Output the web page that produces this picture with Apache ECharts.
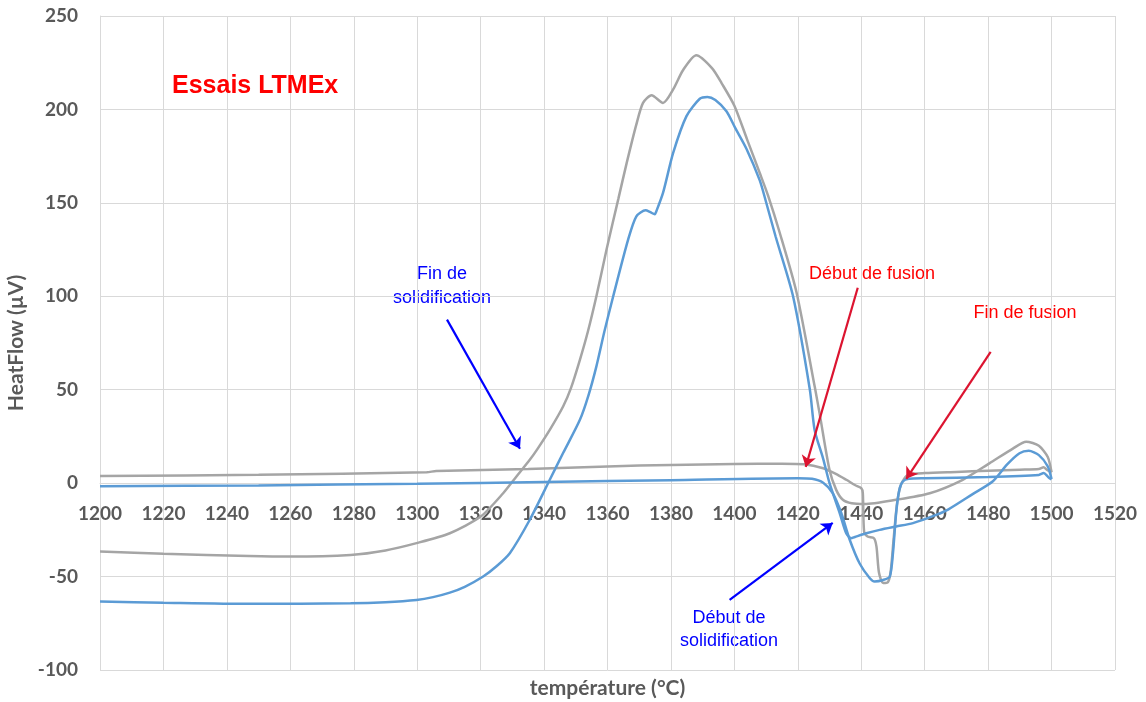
<!DOCTYPE html>
<html>
<head>
<meta charset="utf-8">
<script src="https://cdn.jsdelivr.net/npm/echarts@6/dist/echarts.min.js"></script>
<style>
  html, body { margin: 0; padding: 0; background: #fff; }
  #chart { width: 1146px; height: 702px; }
</style>
</head>
<body>
<div id="chart"></div>
<script>
// Heating run, grey trace (temperature °C / heat flow µV)
const heatGrayT = [1200, 1250, 1303, 1306, 1335, 1370, 1400, 1415, 1422, 1428, 1432, 1435.3, 1438, 1440, 1440.5, 1440.9, 1442, 1444, 1444.8, 1445.6, 1446.9, 1448.4, 1449.3, 1450.2, 1451.2, 1452.2, 1453.4, 1455, 1460, 1470, 1480, 1490, 1496, 1497.5, 1498.6, 1500];
const heatGrayV = [3.8, 4.5, 5.8, 6.5, 7.6, 9.4, 10.2, 10.4, 10.1, 8.0, 5.0, 1.8, -1.0, -2.7, -5.4, -26, -28.6, -29.5, -34, -48, -53.4, -53, -47, -30, -12, -2.5, 2.0, 4.6, 5.4, 6.0, 6.6, 7.2, 7.6, 8.5, 7.0, 5.8];

// Heating run, blue trace
const heatBlueT = [1200, 1250, 1300, 1340, 1380, 1420, 1424.5, 1428, 1431, 1433.7, 1436.3, 1439.5, 1442.7, 1444.2, 1446.9, 1449, 1450, 1451, 1452, 1453.1, 1455, 1460, 1480, 1496, 1497.5, 1499, 1500];
const heatBlueV = [-1.6, -1.2, -0.3, 0.6, 1.6, 2.6, 2.3, 0.2, -5.4, -16, -30, -43, -50.9, -52.6, -51.8, -50, -37.5, -16, -3.6, 0.9, 2.3, 2.6, 3.3, 4.4, 5.4, 3.2, 2.0];

// Cooling run, grey trace (from 1500 °C downwards)
const coolGrayT = [1500, 1498.8, 1496, 1492, 1487.8, 1480.5, 1472, 1461.6, 1451, 1441, 1437, 1434.2, 1432.1, 1430, 1427, 1425.4, 1419.6, 1414.3, 1410.6, 1408, 1404, 1400, 1396, 1393, 1388, 1383.8, 1380.7, 1377.5, 1373.9, 1371.2, 1369.1, 1366, 1363.4, 1359.7, 1356.5, 1353.8, 1351.3, 1348.5, 1346, 1341.8, 1338, 1335.5, 1331.3, 1327.1, 1320, 1310.3, 1299.8, 1290, 1279, 1260, 1247, 1220, 1200];
const coolGrayV = [5.8, 14, 20, 22.2, 18.5, 10.7, 1.8, -5.4, -8.9, -11.2, -10.8, -8.9, -3.6, 7, 36, 51, 102, 134, 154, 166, 184, 202, 214, 222, 229, 221, 210.7, 203.5, 207.6, 203.5, 192, 171, 152, 125, 100, 81, 66, 51, 41, 28.5, 18.5, 12.5, 3.6, -5.4, -17.9, -26.8, -32.1, -36, -38.4, -39.3, -39, -37.8, -36.6];

// Cooling run, blue trace (from 1500 °C downwards)
const coolBlueT = [1500, 1498.8, 1496, 1492.8, 1489.9, 1486, 1481.5, 1475, 1467.5, 1463.6, 1456.3, 1451, 1445.8, 1441.6, 1438, 1436.8, 1435.3, 1433.2, 1430, 1428, 1425.3, 1423.8, 1418.5, 1413, 1409.9, 1408, 1403.8, 1400.3, 1397.5, 1394, 1391.5, 1389.1, 1384.9, 1380.7, 1377.5, 1375.4, 1374.9, 1373.5, 1372, 1369.1, 1366.5, 1361.8, 1359, 1356.5, 1354, 1351.3, 1346, 1341.8, 1335.5, 1329.2, 1325, 1320.8, 1315, 1310.3, 1305, 1299.8, 1290, 1279, 1247, 1220, 1200];
const coolBlueV = [2.2, 9, 15, 17.3, 16, 10, 1, -6, -14, -17, -21.4, -23.2, -25, -26.8, -28.8, -29.5, -27, -16, 0, 13, 28.5, 50, 100, 132, 151, 162, 179, 190, 199, 205, 206.7, 205.7, 196.4, 176.7, 155.3, 145.5, 143.9, 145, 146, 142.8, 130.3, 100, 81, 62.5, 47, 33.9, 16.1, 1.8, -19.6, -37.5, -44.5, -50, -55.5, -58.6, -61, -62.5, -63.7, -64.3, -64.6, -64, -63.4];

// Annotation arrows: [fromT, fromV, toT, toV] in data units
const arrowFinSolid = [1309.4, 87.5, 1332.4, 18.4];
const arrowDebutFusion = [1438.9, 104.6, 1422.5, 8.7];
const arrowFinFusion = [1480.8, 70.3, 1454.2, 2.3];
const arrowDebutSolid = [1398.5, -62.5, 1431.0, -21.3];

const Y_MIN = -100, Y_MAX = 250, Y_STEP = 50;
const X_MIN = 1200, X_MAX = 1520, X_STEP = 20;

const pairs = (t, v) => t.map((x, i) => [x, v[i]]);

const GRAY = '#A5A5A5';
const BLUE = '#5B9BD5';
const ARROW_BLUE = '#0000FF';
const ARROW_RED = '#DC1430';
const AXIS_TEXT = '#595959';
const GRID = '#D9D9D9';
const AXIS_FONT = 'Lato, "Open Sans", sans-serif';
const NOTE_FONT = '"Liberation Sans", Arial, sans-serif';

const CHART_H = 702, GRID_TOP = 16, GRID_BOTTOM = 32;
const plotH = CHART_H - GRID_TOP - GRID_BOTTOM;
// the temperature axis sits on the zero heat-flow line
const xAxisOffset = -plotH * (0 - Y_MIN) / (Y_MAX - Y_MIN);

function arrow(a, color) {
  return [
    { coord: [a[0], a[1]], lineStyle: { color: color, width: 2.2, type: 'solid' }, itemStyle: { color: color } },
    { coord: [a[2], a[3]], itemStyle: { color: color } }
  ];
}

function lineSeries(name, data, color) {
  return {
    name: name,
    type: 'line',
    data: data,
    showSymbol: false,
    smooth: 0.25,
    lineStyle: { color: color, width: 2.5 },
    itemStyle: { color: color },
    emphasis: { disabled: true },
    silent: true,
    z: 2
  };
}

const chart = echarts.init(document.getElementById('chart'), null, { renderer: 'canvas' });

const series = [
  lineSeries('Chauffage gris', pairs(heatGrayT, heatGrayV), GRAY),
  lineSeries('Refroidissement gris', pairs(coolGrayT, coolGrayV), GRAY),
  lineSeries('Chauffage bleu', pairs(heatBlueT, heatBlueV), BLUE),
  lineSeries('Refroidissement bleu', pairs(coolBlueT, coolBlueV), BLUE)
];

series[3].markLine = {
  silent: true,
  animation: false,
  symbol: ['none', 'arrow'],
  symbolSize: 11,
  label: { show: false },
  emphasis: { disabled: true },
  data: [
    arrow(arrowFinSolid, ARROW_BLUE),
    arrow(arrowDebutFusion, ARROW_RED),
    arrow(arrowFinFusion, ARROW_RED),
    arrow(arrowDebutSolid, ARROW_BLUE)
  ]
};

chart.setOption({
  animation: false,
  backgroundColor: '#ffffff',
  title: {
    text: 'Essais LTMEx',
    left: 167,
    top: 69,
    textStyle: { color: '#FF0000', fontSize: 25, fontWeight: 'bold', fontFamily: NOTE_FONT }
  },
  grid: { left: 100, right: 31, top: GRID_TOP, bottom: GRID_BOTTOM, containLabel: false, outerBoundsMode: 'none' },
  xAxis: {
    type: 'value',
    min: X_MIN,
    max: X_MAX,
    interval: X_STEP,
    position: 'bottom',
    offset: xAxisOffset,
    axisLine: { onZero: false, lineStyle: { color: GRID, width: 1 } },
    axisTick: { show: false },
    axisLabel: { color: AXIS_TEXT, fontWeight: 'bold', fontSize: 19, fontFamily: AXIS_FONT, margin: 21, formatter: v => String(v) },
    splitLine: { show: true, lineStyle: { color: GRID, width: 1 } },
    name: 'température (°C)',
    nameLocation: 'middle',
    nameGap: 195,
    nameTextStyle: { color: AXIS_TEXT, fontWeight: 'bold', fontSize: 21, fontFamily: AXIS_FONT }
  },
  yAxis: {
    type: 'value',
    min: Y_MIN,
    max: Y_MAX,
    interval: Y_STEP,
    axisLine: { show: true, onZero: false, lineStyle: { color: GRID, width: 1 } },
    axisTick: { show: false },
    axisLabel: { color: AXIS_TEXT, fontWeight: 'bold', fontSize: 19, fontFamily: AXIS_FONT, margin: 22 },
    splitLine: { show: true, lineStyle: { color: GRID, width: 1 } },
    name: 'HeatFlow (µV)',
    nameLocation: 'middle',
    nameGap: 62,
    nameTextStyle: { color: AXIS_TEXT, fontWeight: 'bold', fontSize: 21, fontFamily: AXIS_FONT }
  },
  graphic: [
    {
      type: 'text', x: 442, y: 286, silent: true,
      style: { text: 'Fin de\nsolidification', fill: '#0000FF', font: '18px ' + NOTE_FONT, align: 'center', verticalAlign: 'middle', lineHeight: 24 }
    },
    {
      type: 'text', x: 872, y: 274, silent: true,
      style: { text: 'Début de fusion', fill: '#FF0000', font: '18px ' + NOTE_FONT, align: 'center', verticalAlign: 'middle' }
    },
    {
      type: 'text', x: 1025, y: 313, silent: true,
      style: { text: 'Fin de fusion', fill: '#FF0000', font: '18px ' + NOTE_FONT, align: 'center', verticalAlign: 'middle' }
    },
    {
      type: 'text', x: 729, y: 630, silent: true,
      style: { text: 'Début de\nsolidification', fill: '#0000FF', font: '18px ' + NOTE_FONT, align: 'center', verticalAlign: 'middle', lineHeight: 23 }
    }
  ],
  series: series
});
</script>
</body>
</html>
